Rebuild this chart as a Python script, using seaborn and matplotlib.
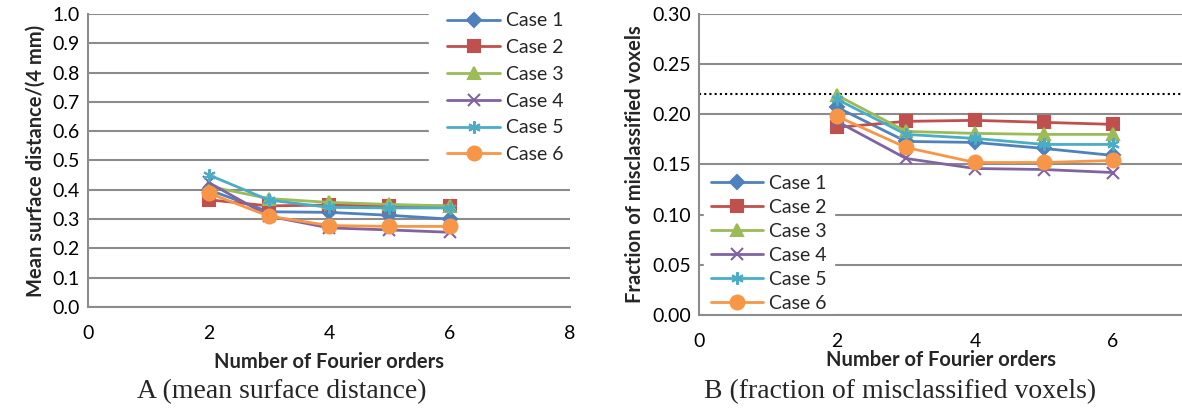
import matplotlib
matplotlib.use("Agg")
import matplotlib.pyplot as plt
import seaborn as sns
import pandas as pd

# dados
orders = [2, 3, 4, 5, 6]
cases = ["Case 1", "Case 2", "Case 3", "Case 4", "Case 5", "Case 6"]

msd = {
    "Case 1": [0.400, 0.325, 0.323, 0.313, 0.300],
    "Case 2": [0.366, 0.345, 0.348, 0.345, 0.345],
    "Case 3": [0.412, 0.370, 0.357, 0.350, 0.345],
    "Case 4": [0.425, 0.310, 0.270, 0.263, 0.255],
    "Case 5": [0.451, 0.365, 0.340, 0.338, 0.338],
    "Case 6": [0.389, 0.310, 0.278, 0.275, 0.275],
}
frac = {
    "Case 1": [0.207, 0.173, 0.172, 0.166, 0.159],
    "Case 2": [0.187, 0.193, 0.194, 0.192, 0.190],
    "Case 3": [0.219, 0.183, 0.181, 0.180, 0.180],
    "Case 4": [0.193, 0.156, 0.146, 0.145, 0.142],
    "Case 5": [0.215, 0.180, 0.176, 0.170, 0.170],
    "Case 6": [0.198, 0.167, 0.152, 0.152, 0.154],
}
limiar = 0.22

cores = ["#4F81BD", "#C0504D", "#9BBB59", "#8064A2", "#4BACC6", "#F79646"]
marcadores = ["D", "s", "^", "x", (6, 2, 0), "o"]
tamanhos = [7, 9, 8, 9, 9, 10]

sns.set_style("white")
plt.rcParams["font.family"] = ["Lato", "DejaVu Sans"]

fig = plt.figure(figsize=(11.82, 4.09), dpi=100)
ax1 = fig.add_axes([0.0745, 0.2494, 0.4078, 0.7164])
ax2 = fig.add_axes([0.5914, 0.2298, 0.4086, 0.7360])

grade = "#8C8C8C"
fs = 14


def desenhar(ax, d):
    for c, cor, m, ms in zip(cases, cores, marcadores, tamanhos):
        sns.lineplot(x=orders, y=d[c], color=cor, marker=m, markersize=ms,
                     markeredgecolor=cor, markerfacecolor=cor, markeredgewidth=1.5,
                     linewidth=2.0, ax=ax, label=c, zorder=3)
    ax.yaxis.grid(True, color=grade, linewidth=1.5, zorder=0)
    ax.xaxis.grid(False)
    for s in ["top", "right"]:
        ax.spines[s].set_visible(False)
    for s in ["left", "bottom"]:
        ax.spines[s].set_color(grade)
        ax.spines[s].set_linewidth(1.5)
    ax.tick_params(length=0, labelsize=fs, colors="black")
    ax.set_axisbelow(True)


def legenda(ax, **kw):
    h, l = ax.get_legend_handles_labels()
    leg = ax.legend(h, l, bbox_transform=fig.transFigure, fontsize=fs, frameon=True,
                    fancybox=False, framealpha=1, edgecolor="white",
                    handlelength=2.7, handletextpad=0.3, borderaxespad=0, **kw)
    leg.set_zorder(2.4)  # por baixo dos eixos, por cima da grade
    return leg


# A
desenhar(ax1, msd)
ax1.set_xlim(0, 8)
ax1.set_ylim(0, 1.0)
ax1.set_xticks([0, 2, 4, 6, 8])
ax1.set_yticks([i / 10 for i in range(11)])
ax1.set_yticklabels([f"{i / 10:.1f}" for i in range(11)])
ax1.tick_params(axis="x", pad=13)
ax1.tick_params(axis="y", pad=6)
ax1.set_xlabel("Number of Fourier orders", fontsize=14.5, fontweight="bold", labelpad=7)
ax1.set_ylabel("Mean surface distance/(4 mm)", fontsize=14.5, fontweight="bold", labelpad=5)
legenda(ax1, loc="upper left", bbox_to_anchor=(429 / 1182, 1 + 6 / 409), labelspacing=0.5,
        borderpad=0.95)

# B
desenhar(ax2, frac)
ax2.axhline(limiar, color="black", linestyle=(0, (1, 1.5)), linewidth=1.5, zorder=2)
ax2.set_xlim(0, 7)
ax2.set_ylim(0, 0.30)
ax2.set_xticks([0, 2, 4, 6])
yt = [0, 0.05, 0.10, 0.15, 0.20, 0.25, 0.30]
ax2.set_yticks(yt)
ax2.set_yticklabels([f"{v:.2f}" for v in yt])
ax2.tick_params(axis="x", pad=13)
ax2.tick_params(axis="y", pad=6)
ax2.set_xlabel("Number of Fourier orders", fontsize=14.5, fontweight="bold", labelpad=0)
ax2.set_ylabel("Fraction of misclassified voxels", fontsize=14.5, fontweight="bold", labelpad=5)
legenda(ax2, loc="lower left", bbox_to_anchor=(704 / 1182, 1 - 319 / 409), labelspacing=0.36,
        borderpad=0.35)

# legendas das figuras
fig.text(282 / 1182, 1 - 392 / 409, "A (mean surface distance)",
         family="Liberation Serif", fontsize=20, ha="center", va="center")
fig.text(900 / 1182, 1 - 392 / 409, "B (fraction of misclassified voxels)",
         family="Liberation Serif", fontsize=20, ha="center", va="center")

fig.savefig("out.png", dpi=100)
